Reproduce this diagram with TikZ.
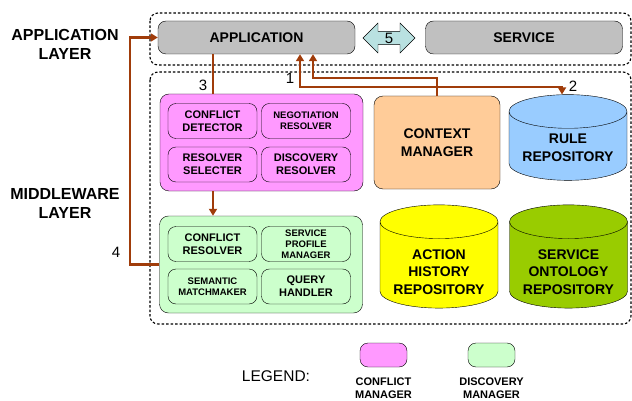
\documentclass[tikz,border=0pt]{standalone}
\usepackage{fontspec}
\setmainfont{Liberation Sans}
\usetikzlibrary{arrows.meta, positioning, calc, shapes.geometric, shapes.arrows}

\definecolor{confpink}{RGB}{255,153,255}
\definecolor{discgreen}{RGB}{204,255,204}
\definecolor{ctxorange}{RGB}{255,204,153}
\definecolor{ruleblue}{RGB}{153,204,255}
\definecolor{histyellow}{RGB}{255,255,0}
\definecolor{ontgreen}{RGB}{153,204,0}
\definecolor{layergray}{RGB}{192,192,192}
\definecolor{flowbrown}{RGB}{160,60,10}
\definecolor{swapcyan}{RGB}{185,225,225}

% text of a cylinder, drawn a little lower but keeping its size
\newcommand{\sinktext}[2]{\raisebox{-#1}[\height][\depth]{\begin{tabular}{@{}c@{}}#2\end{tabular}}}

\tikzset{
  layerbox/.style={draw, line width=1.1pt, dash pattern=on 2.5pt off 2pt, rounded corners=8pt},
  layerlabel/.style={align=center, font=\fontsize{16}{19}\selectfont\bfseries},
  topbox/.style={draw, fill=layergray, rounded corners=8pt, minimum width=197pt, minimum height=33pt,
    font=\fontsize{14}{17}\selectfont\bfseries},
  mgrbox/.style={draw, rounded corners=9pt, minimum width=203pt, minimum height=97pt},
  subbox/.style={draw, rounded corners=8pt, minimum width=89pt, minimum height=35pt, inner sep=1pt,
    align=center, font=\fontsize{11}{13}\selectfont\bfseries},
  tinytext/.style={font=\fontsize{9.5}{11}\selectfont\bfseries},
  bigbox/.style={draw, rounded corners=9pt, align=center, font=\fontsize{14}{17.5}\selectfont\bfseries},
  repo/.style={draw, cylinder, shape border rotate=90, aspect=0.37, minimum width=118pt,
    minimum height=75pt, inner sep=0pt, font=\fontsize{14}{17.5}\selectfont\bfseries},
  flow/.style={draw=flowbrown, line width=2.5pt, -{Triangle[length=7pt,width=8pt]}},
  num/.style={font=\fontsize{15}{15}\selectfont},
  legbox/.style={draw, rounded corners=8pt, minimum width=47pt, minimum height=24pt},
  legtext/.style={align=center, font=\fontsize{11}{13}\selectfont\bfseries}
}

\begin{document}
\begin{tikzpicture}[x=1pt, y=-1pt]
\useasboundingbox (0,0) rectangle (632,401);

% Layers
\draw[layerbox] (150,13) rectangle (631,65);
\draw[layerbox] (150,72) rectangle (631,324);
\node[layerlabel] (applayer) at (65,44) {APPLICATION\\LAYER};
\node[layerlabel] (midlayer) at (65,203) {MIDDLEWARE\\LAYER};

% Application layer
\node[topbox] (app) at (256.5,37.5) {APPLICATION};
\node[topbox] (svc) at (524,37.5) {SERVICE};
\node[draw, fill=swapcyan, double arrow, double arrow head extend=7pt, minimum width=30pt,
  minimum height=52pt, inner sep=0pt, num] (swap) at (389,38) {5};

% Conflict manager
\node[mgrbox, fill=confpink] (confmgr) at (261.5,142.5) {};
\node[subbox] (detector) at (212.5,121) {CONFLICT\\DETECTOR};
\node[subbox, tinytext] (negotiation) at (306,121) {NEGOTIATION\\RESOLVER};
\node[subbox] (selecter) at (212.5,164.5) {RESOLVER\\SELECTER};
\node[subbox] (discres) at (306,164.5) {DISCOVERY\\RESOLVER};

% Discovery manager
\node[mgrbox, fill=discgreen] (discmgr) at (261,264.5) {};
\node[subbox] (resolver) at (212.5,244) {CONFLICT\\RESOLVER};
\node[subbox, tinytext] (profile) at (306,244) {SERVICE\\PROFILE\\MANAGER};
\node[subbox, tinytext] (matcher) at (212.5,286.5) {SEMANTIC\\MATCHMAKER};
\node[subbox] (query) at (306,286.5) {QUERY\\HANDLER};

% Context manager and repositories
\node[bigbox, fill=ctxorange, minimum width=126pt, minimum height=93pt] (ctx) at (437,142.5) {CONTEXT\\MANAGER};
\node[repo, fill=ruleblue] (rule) at (568,146) {\sinktext{3pt}{RULE\\REPOSITORY}};
\node[repo, fill=histyellow] (hist) at (439,265) {\sinktext{8pt}{ACTION\\HISTORY\\REPOSITORY}};
\node[repo, fill=ontgreen] (onto) at (568.5,265) {\sinktext{8pt}{SERVICE\\ONTOLOGY\\REPOSITORY}};

% Flows
\coordinate (k1) at (313,78);
\coordinate (k2) at (300,87);
\coordinate (k2r) at (562,87);
\coordinate (k3) at (213,0);
\coordinate (k4) at (130,0);
\draw[flow, -] (k3 |- app.south) -- (k3 |- confmgr.north);
\draw[flow] (k3 |- confmgr.south) -- (k3 |- discmgr.north);
\draw[flow] (ctx.north) |- (k1) -- (k1 |- app.south);
\draw[flow, {Triangle[length=7pt,width=8pt]}-{Triangle[length=7pt,width=8pt]}] (k2 |- app.south) -- (k2) -- (k2r) -- (k2r |- rule.north);
\draw[flow] (discmgr.west) -- (discmgr.west -| k4) |- (app.west);
\node[num] (n1) at (290,78) {1};
\node[num] (n2) at (573,86) {2};
\node[num] (n3) at (203,85) {3};
\node[num] (n4) at (116,252) {4};

% Legend
\node[font=\fontsize{15.5}{15.5}\selectfont] (legend) at (276,376) {LEGEND:};
\node[legbox, fill=confpink] (legconf) at (383.5,355) {};
\node[legbox, fill=discgreen] (legdisc) at (491.5,355) {};
\node[legtext] (legconftxt) at (383.5,388) {CONFLICT\\MANAGER};
\node[legtext] (legdisctxt) at (491.5,388) {DISCOVERY\\MANAGER};
\end{tikzpicture}
\end{document}
